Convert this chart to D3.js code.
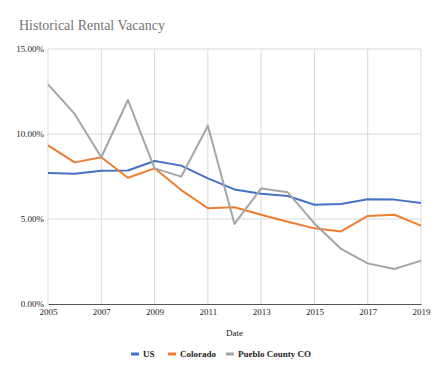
<!DOCTYPE html>
<html><head><meta charset="utf-8">
<script src="https://cdn.jsdelivr.net/npm/d3@7"></script>
<style>body{margin:0;background:#fff}svg{display:block}</style>
</head><body>
<script>
const years = [2005,2006,2007,2008,2009,2010,2011,2012,2013,2014,2015,2016,2017,2018,2019];
const usValues = [7.70,7.66,7.84,7.85,8.41,8.14,7.39,6.74,6.49,6.35,5.84,5.88,6.16,6.14,5.94];
const coloradoValues = [9.33,8.33,8.63,7.43,7.98,6.70,5.63,5.69,5.25,4.84,4.45,4.27,5.18,5.25,4.61];
const puebloValues = [12.92,11.18,8.63,12.00,7.98,7.49,10.49,4.71,6.80,6.57,4.74,3.24,2.39,2.06,2.55];
const seriesNames = ["US","Colorado","Pueblo County CO"];
const seriesColors = ["#4472c4","#ed7d31","#a5a5a5"];
const xTicks = [2005,2007,2009,2011,2013,2015,2017,2019];
const yTicks = [0,5,10,15];

const W=440,H=378;
const svg=d3.select("body").append("svg").attr("width",W).attr("height",H);
const font="'Liberation Serif','Times New Roman',serif";
const x=d3.scaleLinear().domain([2005,2019]).range([48,421]);
const y=d3.scaleLinear().domain([0,15]).range([304,49]);

svg.append("text").attr("x",19).attr("y",30).attr("font-family",font).attr("font-size",14)
  .attr("fill","#757575").text("Historical Rental Vacancy");

// gridlines
svg.append("g").selectAll("line").data(yTicks.filter(d=>d>0)).join("line")
  .attr("x1",x(2005)).attr("x2",x(2019)).attr("y1",d=>y(d)).attr("y2",d=>y(d))
  .attr("stroke","#d9d9d9").attr("stroke-width",1);
svg.append("g").selectAll("line").data(xTicks).join("line")
  .attr("x1",d=>x(d)).attr("x2",d=>x(d)).attr("y1",y(0)).attr("y2",y(15))
  .attr("stroke","#d9d9d9").attr("stroke-width",1);

// y axis labels
const ya=svg.append("g").attr("transform",`translate(${x(2005)},0)`)
  .call(d3.axisLeft(y).tickValues(yTicks).tickSize(0).tickPadding(4).tickFormat(d=>d3.format(".2f")(d)+"%"));
ya.select(".domain").remove();
ya.selectAll("text").attr("font-family",font).attr("font-size",9).attr("fill","#222");

// x axis
const xa=svg.append("g").attr("transform",`translate(0,${y(0)})`)
  .call(d3.axisBottom(x).tickValues(xTicks).tickSize(0).tickPadding(5).tickFormat(d3.format("d")));
xa.select(".domain").attr("stroke","#555").attr("stroke-width",1.2);
xa.selectAll("text").attr("font-family",font).attr("font-size",9).attr("fill","#222");

svg.append("text").attr("x",234.5).attr("y",336).attr("text-anchor","middle")
  .attr("font-family",font).attr("font-size",9).attr("fill","#222").text("Date");

const allSeries=[usValues,coloradoValues,puebloValues];
const line=d3.line().x((d,i)=>x(years[i])).y(d=>y(d));
allSeries.forEach((vals,k)=>{
  svg.append("path").datum(vals).attr("d",line).attr("fill","none")
    .attr("stroke",seriesColors[k]).attr("stroke-width",2).attr("stroke-linejoin","round");
});

// legend
const legX=[131,168,226];
seriesNames.forEach((n,k)=>{
  svg.append("rect").attr("x",legX[k]).attr("y",352.5).attr("width",8).attr("height",3).attr("fill",seriesColors[k]);
  svg.append("text").attr("x",legX[k]+12).attr("y",357).attr("font-family",font).attr("font-size",9)
    .attr("font-weight","bold").attr("fill","#222").text(n);
});
</script>
</body></html>
